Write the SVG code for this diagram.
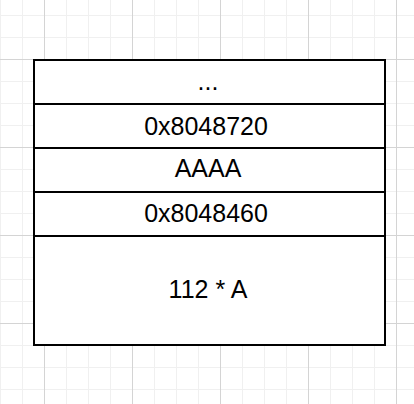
<svg xmlns="http://www.w3.org/2000/svg" width="414" height="404" viewBox="0 0 414 404">
<defs>
<pattern id="minor" x="0" y="15" width="22" height="22" patternUnits="userSpaceOnUse">
<path d="M0.5 0V22M0 0.5H22" fill="none" stroke="#f0f0f0" stroke-width="1"/>
</pattern>
<pattern id="major" x="44" y="59" width="88" height="88" patternUnits="userSpaceOnUse">
<path d="M0.5 0V88M0 0.5H88" fill="none" stroke="#d4d4d4" stroke-width="1"/>
</pattern>
</defs>
<style>
.cell{fill:#fff;stroke:#000;stroke-width:2}
.lbl{font-family:"Liberation Sans",Arial,sans-serif;font-size:25px;fill:#000;text-anchor:middle}
</style>
<rect width="414" height="404" fill="#fff"/>
<rect width="414" height="404" fill="url(#minor)"/>
<rect width="414" height="404" fill="url(#major)"/>
<g id="cell-dots"><rect class="cell" x="34" y="60" width="351" height="44"/><text class="lbl" x="208" y="90">...</text></g>
<g id="cell-8048720"><rect class="cell" x="34" y="104" width="351" height="44"/><text class="lbl" x="206" y="135">0x8048720</text></g>
<g id="cell-AAAA"><rect class="cell" x="34" y="148" width="351" height="44"/><text class="lbl" x="208" y="177">AAAA</text></g>
<g id="cell-8048460"><rect class="cell" x="34" y="192" width="351" height="44"/><text class="lbl" x="206" y="222">0x8048460</text></g>
<g id="cell-112A"><rect class="cell" x="34" y="236" width="351" height="109"/><text class="lbl" x="208" y="298">112 * A</text></g>
<g id="connectors"/>
</svg>
